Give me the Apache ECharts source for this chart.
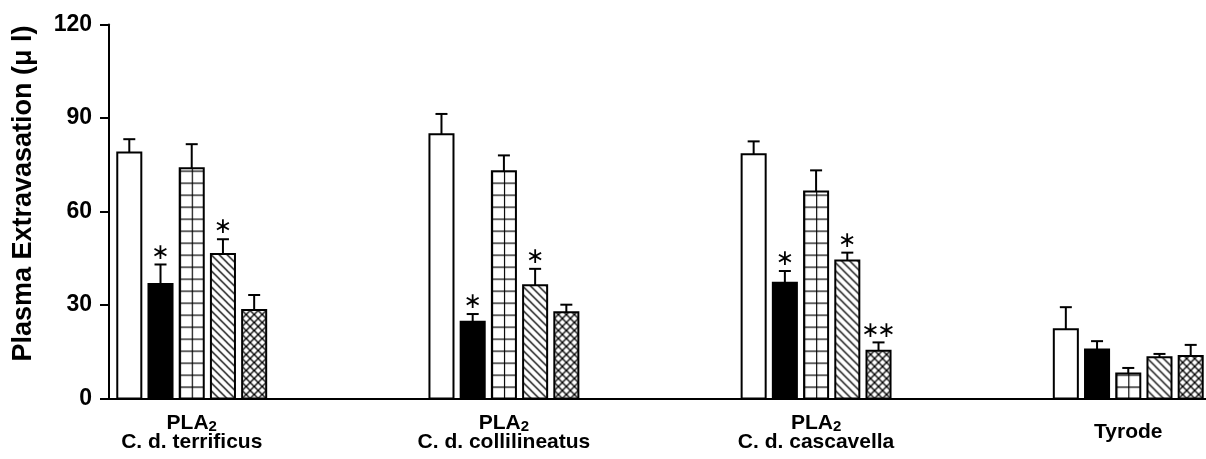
<!DOCTYPE html>
<html><head><meta charset="utf-8">
<script src="https://cdn.jsdelivr.net/npm/echarts@6/dist/echarts.min.js"></script>
<style>html,body{margin:0;padding:0;background:#fff}#c{width:1206px;height:459px}</style>
</head><body><div id="c"></div>
<script>
// ---- data ----
const categories = ['C. d. terrificus', 'C. d. collilineatus', 'C. d. cascavella', 'Tyrode'];
const categoryPrefix = ['PLA', 'PLA', 'PLA', ''];
const prefixSubscript = '2';
const yTicks = [0, 30, 60, 90, 120];
const s1Mean = [78.9, 84.8, 78.4, 22.2];
const s1Err  = [4.3, 6.5, 4.1, 7.1];
const s1Sig  = ['', '', '', ''];
const s2Mean = [36.7, 24.6, 37.1, 15.7];
const s2Err  = [6.3, 2.5, 3.8, 2.7];
const s2Sig  = ['\u2217', '\u2217', '\u2217', ''];
const s3Mean = [73.9, 72.9, 66.4, 8.0];
const s3Err  = [7.7, 5.1, 6.8, 1.8];
const s3Sig  = ['', '', '', ''];
const s4Mean = [46.4, 36.3, 44.3, 13.2];
const s4Err  = [4.7, 5.3, 2.5, 1.1];
const s4Sig  = ['\u2217', '\u2217', '\u2217', ''];
const s5Mean = [28.4, 27.7, 15.3, 13.6];
const s5Err  = [4.8, 2.4, 2.7, 3.6];
const s5Sig  = ['', '', '\u2217\u2217', ''];
const yTitle = 'Plasma Extravasation (\u03bc l)';

// ---- patterns ----
function tile(size, draw) {
  const c = document.createElement('canvas');
  c.width = size; c.height = size;
  const ctx = c.getContext('2d');
  ctx.fillStyle = '#fff'; ctx.fillRect(0, 0, size, size);
  ctx.strokeStyle = '#000'; ctx.lineWidth = 1.3;
  draw(ctx, size);
  return c;
}
const gridTile = tile(12, (ctx, s) => {
  ctx.beginPath(); ctx.moveTo(0.5, 0); ctx.lineTo(0.5, s); ctx.moveTo(0, 0.5); ctx.lineTo(s, 0.5); ctx.stroke();
});
function diagDown(ctx, s) {
  ctx.beginPath();
  for (let o = -s; o <= s; o += s) { ctx.moveTo(o - 2, -2); ctx.lineTo(o + s + 2, s + 2); }
  ctx.stroke();
}
function diagUp(ctx, s) {
  ctx.beginPath();
  for (let o = -s; o <= s; o += s) { ctx.moveTo(o - 2, s + 2); ctx.lineTo(o + s + 2, -2); }
  ctx.stroke();
}
const diagTile = tile(8, diagDown);
const crossTile = tile(8, (ctx, s) => { diagDown(ctx, s); diagUp(ctx, s); });

const seriesDefs = [
  { name: 'S1', mean: s1Mean, err: s1Err, sig: s1Sig, fill: '#fff' },
  { name: 'S2', mean: s2Mean, err: s2Err, sig: s2Sig, fill: '#000' },
  { name: 'S3', mean: s3Mean, err: s3Err, sig: s3Sig, fill: gridTile },
  { name: 'S4', mean: s4Mean, err: s4Err, sig: s4Sig, fill: diagTile },
  { name: 'S5', mean: s5Mean, err: s5Err, sig: s5Sig, fill: crossTile }
];
const SLOT = 0.1, BAR = 0.077, CAP = 12, SIG_STEP = 16;
const FONT = '"Liberation Sans", Arial, sans-serif';

function makeSeries(def, k) {
  return {
    type: 'custom',
    name: def.name,
    data: def.mean.map((m, g) => [g, m, def.err[g]]),
    encode: { x: 0, y: 1 },
    renderItem: function (params, api) {
      const g = api.value(0), m = api.value(1), e = api.value(2);
      const xc = g + (k - 2) * SLOT;
      const pb = api.coord([xc, 0]);
      const pt = api.coord([xc, m]);
      const pe = api.coord([xc, m + e]);
      const w = api.size([BAR, 0])[0];
      const left = pb[0] - w / 2;
      let fill = def.fill;
      if (typeof fill !== 'string') fill = { image: fill, repeat: 'repeat', x: left, y: pb[1] };
      const ch = [
        { type: 'line', shape: { x1: pt[0], y1: pt[1], x2: pe[0], y2: pe[1] }, style: { stroke: '#000', lineWidth: 2 } },
        { type: 'line', shape: { x1: pe[0] - CAP / 2, y1: pe[1], x2: pe[0] + CAP / 2, y2: pe[1] }, style: { stroke: '#000', lineWidth: 2 } },
        { type: 'rect', shape: { x: left, y: pt[1], width: w, height: pb[1] - pt[1] }, style: { fill: fill, stroke: '#000', lineWidth: 2 } }
      ];
      const s = Array.from(def.sig[params.dataIndex] || '');
      s.forEach((chr, j) => {
        const dx = (j - (s.length - 1) / 2) * SIG_STEP;
        ch.push({ type: 'text', x: pe[0] + dx, y: pe[1] - 11.5, style: { text: chr, fill: '#000', font: '22px "DejaVu Sans", sans-serif', align: 'center', verticalAlign: 'middle' } });
      });
      return { type: 'group', children: ch };
    }
  };
}

const chart = echarts.init(document.getElementById('c'), null, { renderer: 'canvas' });
chart.setOption({
  animation: false,
  backgroundColor: '#fff',
  grid: { left: 109, right: 0, top: 24.5, bottom: 60.5, containLabel: false },
  xAxis: {
    type: 'value', min: -0.265, max: 3.249,
    splitLine: { show: false },
    axisTick: { show: false },
    axisLine: { show: true, onZero: false, lineStyle: { color: '#000', width: 2 } },
    axisLabel: {
      customValues: [0, 1, 2, 3],
      verticalAlign: 'middle',
      margin: 34,
      color: '#000',
      formatter: function (v) {
        const i = Math.round(v);
        if (i < 0 || i >= categories.length) return '';
        if (categoryPrefix[i]) return '{a|' + categoryPrefix[i] + '}{s|' + prefixSubscript + '}\n{a|' + categories[i] + '}';
        return '{a|' + categories[i] + '}';
      },
      rich: {
        a: { fontSize: 21, fontWeight: 'bold', fontFamily: FONT, lineHeight: 19, color: '#000' },
        s: { fontSize: 15, fontWeight: 'bold', fontFamily: FONT, lineHeight: 8, height: 12, verticalAlign: 'bottom', color: '#000' }
      }
    }
  },
  yAxis: {
    type: 'value', min: yTicks[0], max: yTicks[yTicks.length - 1], interval: yTicks[1] - yTicks[0],
    name: yTitle, nameLocation: 'middle', nameGap: 72,
    nameTextStyle: { fontSize: 27, fontWeight: 'bold', fontFamily: FONT, color: '#000', padding: [0, 0, 0, 36] },
    splitLine: { show: false },
    axisLine: { show: true, onZero: false, lineStyle: { color: '#000', width: 2 } },
    axisTick: { show: true, length: 9, lineStyle: { color: '#000', width: 2 } },
    axisLabel: { margin: 17, fontSize: 23, fontWeight: 'bold', fontFamily: FONT, color: '#000' }
  },
  series: seriesDefs.map(makeSeries)
});
</script></body></html>
